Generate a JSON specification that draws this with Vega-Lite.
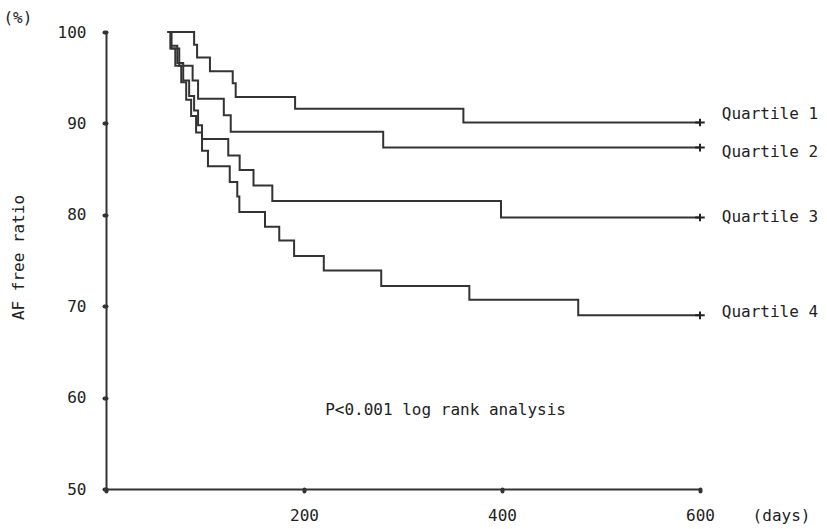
{
  "$schema": "https://vega.github.io/schema/vega-lite/v6.json",
  "width": 594,
  "height": 457,
  "autosize": "none",
  "padding": {"left": 106, "top": 32, "right": 127, "bottom": 40},
  "background": "white",
  "config": {
    "view": {"stroke": null},
    "font": "DejaVu Sans Mono",
    "text": {"font": "DejaVu Sans Mono", "fontSize": 16, "color": "#222"}
  },
  "datasets": {
    "curves": [
      {"q": "Quartile 1", "day": 65, "value": 100},
      {"q": "Quartile 1", "day": 89, "value": 98.6},
      {"q": "Quartile 1", "day": 92, "value": 97.2},
      {"q": "Quartile 1", "day": 105, "value": 95.7},
      {"q": "Quartile 1", "day": 128, "value": 94.4},
      {"q": "Quartile 1", "day": 131, "value": 92.9},
      {"q": "Quartile 1", "day": 191, "value": 91.6},
      {"q": "Quartile 1", "day": 361, "value": 90.1},
      {"q": "Quartile 1", "day": 600, "value": 90.1},
      {"q": "Quartile 2", "day": 63, "value": 100},
      {"q": "Quartile 2", "day": 66, "value": 98.2},
      {"q": "Quartile 2", "day": 74, "value": 96.3},
      {"q": "Quartile 2", "day": 87.5, "value": 94.7},
      {"q": "Quartile 2", "day": 93, "value": 92.7},
      {"q": "Quartile 2", "day": 119, "value": 90.9},
      {"q": "Quartile 2", "day": 126, "value": 89.1},
      {"q": "Quartile 2", "day": 280, "value": 87.35},
      {"q": "Quartile 2", "day": 600, "value": 87.35},
      {"q": "Quartile 3", "day": 62, "value": 100},
      {"q": "Quartile 3", "day": 66, "value": 98.5},
      {"q": "Quartile 3", "day": 72, "value": 96.6},
      {"q": "Quartile 3", "day": 78, "value": 94.7},
      {"q": "Quartile 3", "day": 84, "value": 93.0},
      {"q": "Quartile 3", "day": 89, "value": 91.4},
      {"q": "Quartile 3", "day": 93, "value": 89.8},
      {"q": "Quartile 3", "day": 97, "value": 88.3},
      {"q": "Quartile 3", "day": 123.5, "value": 86.5},
      {"q": "Quartile 3", "day": 135, "value": 84.9},
      {"q": "Quartile 3", "day": 149, "value": 83.2},
      {"q": "Quartile 3", "day": 168, "value": 81.5},
      {"q": "Quartile 3", "day": 399, "value": 79.7},
      {"q": "Quartile 3", "day": 600, "value": 79.7},
      {"q": "Quartile 4", "day": 62, "value": 100},
      {"q": "Quartile 4", "day": 65, "value": 98.2},
      {"q": "Quartile 4", "day": 70, "value": 96.3},
      {"q": "Quartile 4", "day": 76, "value": 94.5},
      {"q": "Quartile 4", "day": 81, "value": 92.6},
      {"q": "Quartile 4", "day": 86, "value": 90.8},
      {"q": "Quartile 4", "day": 91, "value": 89.0},
      {"q": "Quartile 4", "day": 97, "value": 87.0},
      {"q": "Quartile 4", "day": 103, "value": 85.3},
      {"q": "Quartile 4", "day": 125, "value": 83.6},
      {"q": "Quartile 4", "day": 132.6, "value": 82.0},
      {"q": "Quartile 4", "day": 134.7, "value": 80.3},
      {"q": "Quartile 4", "day": 160.6, "value": 78.7},
      {"q": "Quartile 4", "day": 175, "value": 77.2},
      {"q": "Quartile 4", "day": 190, "value": 75.5},
      {"q": "Quartile 4", "day": 220, "value": 73.9},
      {"q": "Quartile 4", "day": 278, "value": 72.2},
      {"q": "Quartile 4", "day": 367, "value": 70.7},
      {"q": "Quartile 4", "day": 477, "value": 69.0},
      {"q": "Quartile 4", "day": 600, "value": 69.0}
    ],
    "ends": [
      {"q": "Quartile 1", "day": 600, "value": 90.1},
      {"q": "Quartile 2", "day": 600, "value": 87.35},
      {"q": "Quartile 3", "day": 600, "value": 79.7},
      {"q": "Quartile 4", "day": 600, "value": 69.0}
    ],
    "labels": [
      {"label": "Quartile 1", "day": 622, "value": 91.0},
      {"label": "Quartile 2", "day": 622, "value": 86.9},
      {"label": "Quartile 3", "day": 622, "value": 79.8},
      {"label": "Quartile 4", "day": 622, "value": 69.4}
    ],
    "notes": [
      {"label": "P<0.001 log rank analysis", "day": 343, "value": 58.6},
      {"label": "(%)", "day": -89, "value": 101.5}
    ]
  },
  "layer": [
    {
      "data": {"name": "curves"},
      "mark": {"type": "line", "interpolate": "step-after", "color": "#333", "strokeWidth": 2},
      "encoding": {
        "x": {
          "field": "day", "type": "quantitative",
          "scale": {"domain": [0, 600], "nice": false, "zero": false},
          "axis": {
            "values": [0, 200, 400, 600],
            "labelExpr": "datum.value == 0 ? '' : datum.label",
            "labelFlush": false,
            "labelOverlap": false,
            "grid": false,
            "domainColor": "#333", "domainWidth": 2,
            "tickColor": "#333", "tickSize": 2, "tickWidth": 4, "tickCap": "round",
            "labelFont": "DejaVu Sans Mono", "labelFontSize": 16, "labelColor": "#222",
            "labelPadding": 16,
            "title": "(days)",
            "titleFont": "DejaVu Sans Mono", "titleFontSize": 16, "titleFontWeight": "normal", "titleColor": "#222",
            "titleX": 675, "titleY": 18, "titleAlign": "center", "titleBaseline": "top"
          }
        },
        "y": {
          "field": "value", "type": "quantitative",
          "scale": {"domain": [50, 100], "nice": false, "zero": false},
          "axis": {
            "values": [50, 60, 70, 80, 90, 100],
            "labelFlush": false,
            "grid": false,
            "domainColor": "#333", "domainWidth": 2,
            "tickColor": "#333", "tickSize": 2, "tickWidth": 4, "tickCap": "round",
            "labelFont": "DejaVu Sans Mono", "labelFontSize": 16, "labelColor": "#222",
            "labelPadding": 18,
            "title": "AF free ratio",
            "titleFont": "DejaVu Sans Mono", "titleFontSize": 16, "titleFontWeight": "normal", "titleColor": "#222",
            "titleX": -88, "titleY": 225, "titleAlign": "center", "titleBaseline": "middle", "titleAngle": -90
          }
        },
        "detail": {"field": "q"}
      }
    },
    {
      "data": {"name": "ends"},
      "mark": {"type": "point", "shape": "M-1,0H1M0,-0.8V0.8", "filled": false, "color": "#222", "strokeWidth": 2, "size": 90, "opacity": 1},
      "encoding": {
        "x": {"field": "day", "type": "quantitative"},
        "y": {"field": "value", "type": "quantitative"}
      }
    },
    {
      "data": {"name": "labels"},
      "mark": {"type": "text", "align": "left", "baseline": "middle", "fontSize": 16},
      "encoding": {
        "x": {"field": "day", "type": "quantitative"},
        "y": {"field": "value", "type": "quantitative"},
        "text": {"field": "label"}
      }
    },
    {
      "data": {"name": "notes"},
      "mark": {"type": "text", "align": "center", "baseline": "middle", "fontSize": 16},
      "encoding": {
        "x": {"field": "day", "type": "quantitative"},
        "y": {"field": "value", "type": "quantitative"},
        "text": {"field": "label"}
      }
    }
  ]
}
